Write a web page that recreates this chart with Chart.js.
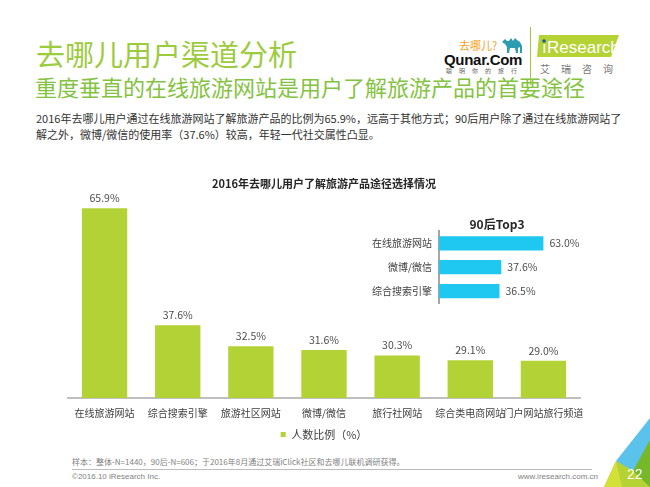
<!DOCTYPE html>
<html lang="zh-CN">
<head>
<meta charset="UTF-8">
<script src="https://cdn.jsdelivr.net/npm/chart.js"></script>
<title>去哪儿用户渠道分析</title>
<style>
  body { margin: 0; width: 650px; height: 487px; background: #fff; position: relative; overflow: hidden;
         font-family: "Noto Sans CJK SC", "Noto Sans", sans-serif; }
  .abs { position: absolute; white-space: nowrap; }
  #title { left: 36px; top: 33px; font-size: 29px; line-height: 40px; color: #9dcb3e; }
  #subtitle { left: 35px; top: 72px; font-size: 22px; line-height: 28px; color: #84c341; }
  .desc { left: 36px; font-size: 11px; line-height: 15px; color: #333; }
  #mainWrap { left: 0; top: 168px; width: 650px; height: 282px; }
  #topWrap { left: 340px; top: 217px; width: 260px; height: 99px; }
  #note { left: 72px; top: 456px; font-size: 8px; color: #7f7f7f; }
  #rule { left: 72px; top: 469px; width: 520px; height: 1px; background: #bdbdbd; }
  #copy { left: 72px; top: 472px; font-size: 8px; color: #7f7f7f; font-family: "Liberation Sans", sans-serif; }
  #site { left: 518px; top: 472px; font-size: 8px; color: #7f7f7f; font-family: "Liberation Sans", sans-serif; }
  #page { left: 627px; top: 466px; font-size: 14px; color: #fff; font-family: "Liberation Sans", sans-serif; }
</style>
</head>
<body>
  <div class="abs" id="title">去哪儿用户渠道分析</div>
  <div class="abs" id="subtitle">重度垂直的在线旅游网站是用户了解旅游产品的首要途径</div>
  <div class="abs desc" style="top:111px">2016年去哪儿用户通过在线旅游网站了解旅游产品的比例为65.9%，远高于其他方式；90后用户除了通过在线旅游网站了</div>
  <div class="abs desc" style="top:127px">解之外，微博/微信的使用率（37.6%）较高，年轻一代社交属性凸显。</div>

  <!-- logos -->
  <div class="abs" style="left:459px;top:37px;font-size:11px;color:#f4a21c;">去哪儿?</div>
  <svg class="abs" style="left:500px;top:36px" width="26" height="18" viewBox="0 0 26 18">
    <path d="M2 6 L5 3 L7 5 L9 5 L11 2 L13 5 L15 2 L17 4 L20 6 L22 10 L22 17 L20 17 L20 11 L18 12 L18 17 L16 17 L15 12 L10 12 L9 17 L7 17 L7 11 L5 8 Z" fill="#2b9db3"/>
  </svg>
  <div class="abs" style="left:444px;top:51px;font-size:15px;font-weight:bold;color:#111;font-family:'Liberation Sans',sans-serif;letter-spacing:-0.3px;">Qunar.Com</div>
  <div class="abs" style="left:446px;top:66px;font-size:6px;color:#666;letter-spacing:7px;">聪明你的旅行</div>
  <div class="abs" style="left:530px;top:27px;width:1px;height:58px;background:#9dcb3e;"></div>
  <svg class="abs" style="left:537px;top:34px" width="82" height="24">
    <polygon points="2,1 82,1 74,23 0,23" fill="#b5d334"/>
    <circle cx="7" cy="7" r="1.8" fill="#1d58a8"/>
    <text x="5" y="19" font-family="Liberation Sans, sans-serif" font-size="17" fill="#fff">ı</text>
    <text x="10" y="19" font-family="Liberation Sans, sans-serif" font-size="17" fill="#fff">Research</text>
  </svg>
  <div class="abs" style="left:540px;top:61px;font-size:10px;color:#777;letter-spacing:11px;">艾瑞咨询</div>

  <div class="abs" id="mainWrap"><canvas id="mainChart"></canvas></div>
  <div class="abs" id="topWrap"><canvas id="topChart"></canvas></div>

  <div class="abs" id="note">样本：整体-N=1440，90后-N=606；于2016年8月通过艾瑞iClick社区和去哪儿联机调研获得。</div>
  <div class="abs" id="rule"></div>
  <div class="abs" id="copy">©2016.10 iResearch Inc.</div>
  <div class="abs" id="site">www.iresearch.com.cn</div>

  <svg class="abs" style="left:590px;top:410px" width="60" height="77" viewBox="590 410 60 77">
    <polygon points="650,418 616,461 650,487" fill="#5bc2ec"/>
    <polygon points="650,440 624,487 650,487" fill="#76b82a"/>
    <polygon points="616,461 632,470 650,487 604,487" fill="#b5d334"/>
    <polygon points="604,487 616,461 622,487" fill="#d3e03a"/>
  </svg>
  <div class="abs" id="page">22</div>

<script>
  // 整体数据
  const channels = ['在线旅游网站', '综合搜索引擎', '旅游社区网站', '微博/微信', '旅行社网站', '综合类电商网站', '门户网站旅行频道'];
  const shares = [65.9, 37.6, 32.5, 31.6, 30.3, 29.1, 29.0];

  // 90后 Top3
  const top3Channels = ['在线旅游网站', '微博/微信', '综合搜索引擎'];
  const top3Shares = [63.0, 37.6, 36.5];

  const cjk = '"Noto Sans CJK SC", sans-serif';

  // 柱子上的百分比标签
  const valueLabels = {
    id: 'valueLabels',
    afterDatasetsDraw(chart) {
      const c = chart.ctx;
      const horizontal = chart.options.indexAxis === 'y';
      chart.getDatasetMeta(0).data.forEach((bar, i) => {
        const v = chart.data.datasets[0].data[i].toFixed(1) + '%';
        c.save();
        c.font = '10.5px ' + cjk;
        c.fillStyle = '#4d4d4d';
        if (horizontal) {
          c.textAlign = 'left';
          c.textBaseline = 'middle';
          c.fillText(v, bar.x + 6, bar.y);
        } else {
          c.textAlign = 'center';
          c.textBaseline = 'bottom';
          c.fillText(v, bar.x, bar.y - 5);
        }
        c.restore();
      });
    }
  };

  new Chart(document.getElementById('mainChart'), {
    type: 'bar',
    data: {
      labels: channels,
      datasets: [{
        label: '人数比例（%）',
        data: shares,
        backgroundColor: '#b3d235',
        categoryPercentage: 1,
        barPercentage: 0.62
      }]
    },
    options: {
      responsive: true,
      maintainAspectRatio: false,
      animation: false,
      layout: { padding: { left: 68, right: 70, top: 0, bottom: 0 } },
      plugins: {
        title: {
          display: true,
          text: '2016年去哪儿用户了解旅游产品途径选择情况',
          color: '#262626',
          font: { family: cjk, size: 11, weight: 'bold' },
          padding: { top: 9, bottom: 1 }
        },
        legend: {
          position: 'bottom',
          labels: {
            color: '#404040',
            font: { family: cjk, size: 11 },
            boxWidth: 5,
            boxHeight: 5,
            padding: 5
          }
        },
        tooltip: { enabled: false }
      },
      scales: {
        y: { display: false, min: 20, max: 70 },
        x: {
          afterFit(scale) { scale.height = 26; },
          grid: { display: false, drawTicks: false },
          border: { color: '#bfbfbf', width: 2 },
          ticks: { color: '#404040', font: { family: cjk, size: 10 }, padding: 9, maxRotation: 0, autoSkip: false }
        }
      }
    },
    plugins: [valueLabels]
  });

  new Chart(document.getElementById('topChart'), {
    type: 'bar',
    data: {
      labels: top3Channels,
      datasets: [{
        label: '90后',
        data: top3Shares,
        backgroundColor: '#1ec8f0',
        categoryPercentage: 1,
        barPercentage: 0.6
      }]
    },
    options: {
      indexAxis: 'y',
      responsive: true,
      maintainAspectRatio: false,
      animation: false,
      layout: { padding: { left: 0, right: 45, top: 0, bottom: 0 } },
      plugins: {
        title: {
          display: true,
          fullSize: false,
          text: '90后Top3',
          color: '#262626',
          font: { family: cjk, size: 12, weight: 'bold' },
          padding: { top: 0, bottom: 0 }
        },
        legend: { display: false },
        tooltip: { enabled: false }
      },
      scales: {
        x: { display: false, min: 0, max: 70 },
        y: {
          afterFit(scale) { scale.width = 99; },
          grid: { display: false, drawTicks: false },
          border: { color: '#a6a6a6', width: 2 },
          ticks: { color: '#404040', font: { family: cjk, size: 10 }, padding: 7 }
        }
      }
    },
    plugins: [valueLabels]
  });
</script>
</body>
</html>
